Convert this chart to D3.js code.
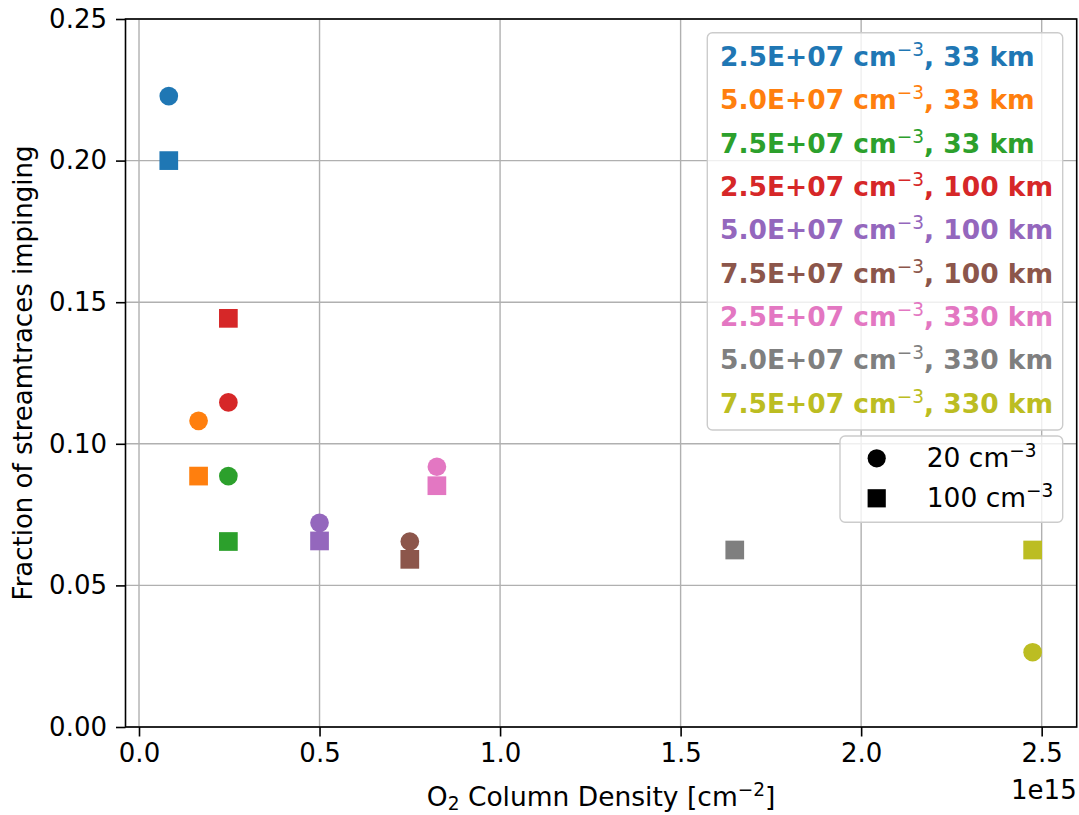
<!DOCTYPE html>
<html>
<head>
<meta charset="utf-8">
<script src="https://cdn.jsdelivr.net/npm/d3@7"></script>
<style>
  html, body { margin: 0; padding: 0; background: #fff; }
  svg { display: block; font-family: "DejaVu Sans", sans-serif; }
</style>
</head>
<body>
<svg id="chart" width="1079" height="815"></svg>
<script>
// ---- data ----
const densities = ["2.5E+07", "5.0E+07", "7.5E+07", "2.5E+07", "5.0E+07", "7.5E+07", "2.5E+07", "5.0E+07", "7.5E+07"];
const altitudes = ["33", "33", "33", "100", "100", "100", "330", "330", "330"];
const colors = ["#1f77b4", "#ff7f0e", "#2ca02c", "#d62728", "#9467bd", "#8c564b", "#e377c2", "#7f7f7f", "#bcbd22"];
// O2 column density in units of 1e15 cm^-2
const columnDensity = [0.0825, 0.165, 0.2475, 0.2475, 0.5, 0.75, 0.825, 1.65, 2.475];
// fraction of streamtraces impinging, for 20 cm^-3 (circles) and 100 cm^-3 (squares)
const frac20 = [0.2228, 0.1081, 0.0886, 0.1146, 0.0721, 0.0655, 0.0919, null, 0.0264];
const frac100 = [0.2000, 0.0886, 0.0655, 0.1443, 0.0657, 0.0592, 0.0852, 0.0625, 0.0625];
const xTicks = [0.0, 0.5, 1.0, 1.5, 2.0, 2.5];
const yTicks = [0.00, 0.05, 0.10, 0.15, 0.20, 0.25];
const markerLabels = ["20", "100"];

// ---- layout ----
const svg = d3.select("#chart");
const L = 125.5, R = 1076.7, T = 19, B = 727;
const FS = 26;
const LFS = 26.5;
const x = d3.scaleLinear().domain([-0.0374, 2.597]).range([L, R]);
const y = d3.scaleLinear().domain([0, 0.25]).range([B, T]);

// grid
const grid = svg.append("g");
grid.selectAll("line.vx").data(xTicks).enter().append("line")
  .attr("x1", d => x(d)).attr("x2", d => x(d)).attr("y1", T).attr("y2", B)
  .attr("stroke", "#b0b0b0").attr("stroke-width", 1.4);
grid.selectAll("line.hy").data(yTicks).enter().append("line")
  .attr("x1", L).attr("x2", R).attr("y1", d => y(d)).attr("y2", d => y(d))
  .attr("stroke", "#b0b0b0").attr("stroke-width", 1.4);

// axes
const xAxis = d3.axisBottom(x).tickValues(xTicks).tickFormat(d3.format(".1f")).tickSize(9.5).tickPadding(7);
const yAxis = d3.axisLeft(y).tickValues(yTicks).tickFormat(d3.format(".2f")).tickSize(9.5).tickPadding(9);
const gx = svg.append("g").attr("transform", `translate(0,${B})`).call(xAxis);
const gy = svg.append("g").attr("transform", `translate(${L},0)`).call(yAxis);
[gx, gy].forEach(g => {
  g.select(".domain").remove();
  g.selectAll(".tick line").attr("stroke", "#000").attr("stroke-width", 1.6);
  g.selectAll(".tick text").attr("fill", "#000").attr("font-size", FS).attr("font-family", "DejaVu Sans");
});

// points
const pts = svg.append("g");
const half = 9.35;
pts.selectAll("circle").data(columnDensity.map((c, i) => ({c, v: frac20[i], col: colors[i]})).filter(d => d.v != null))
  .enter().append("circle")
  .attr("cx", d => x(d.c)).attr("cy", d => y(d.v)).attr("r", half)
  .attr("fill", d => d.col);
pts.selectAll("rect").data(columnDensity.map((c, i) => ({c, v: frac100[i], col: colors[i]})).filter(d => d.v != null))
  .enter().append("rect")
  .attr("x", d => x(d.c) - half).attr("y", d => y(d.v) - half)
  .attr("width", 2 * half).attr("height", 2 * half)
  .attr("fill", d => d.col);

// spines
svg.append("rect").attr("x", L).attr("y", T).attr("width", R - L).attr("height", B - T)
  .attr("fill", "none").attr("stroke", "#000").attr("stroke-width", 1.6);

// axis labels
const xl = svg.append("text").attr("x", (L + R) / 2).attr("y", 806).attr("text-anchor", "middle")
  .attr("font-size", 26.5).attr("fill", "#000");
xl.append("tspan").text("O");
xl.append("tspan").attr("font-size", 26.5 * 0.7).attr("dy", 4).text("2");
xl.append("tspan").attr("dy", -4).text(" Column Density [cm");
xl.append("tspan").attr("font-size", 26.5 * 0.7).attr("dy", -10).text("−2");
xl.append("tspan").attr("dy", 10).text("]");

svg.append("text").attr("transform", `translate(32,${(T + B) / 2}) rotate(-90)`)
  .attr("text-anchor", "middle").attr("font-size", FS).attr("fill", "#000")
  .text("Fraction of streamtraces impinging");

svg.append("text").attr("x", R).attr("y", 799).attr("text-anchor", "end")
  .attr("font-size", FS).attr("fill", "#000").text("1e15");

// legend 1
const lg = svg.append("g");
lg.append("rect").attr("x", 707.3).attr("y", 32.7).attr("width", 1062.7 - 707.3).attr("height", 430 - 32.7)
  .attr("rx", 5).attr("fill", "#fff").attr("fill-opacity", 0.8)
  .attr("stroke", "#cccccc").attr("stroke-width", 1.4);
densities.forEach((d, i) => {
  const t = lg.append("text").attr("x", 720).attr("y", 66 + i * 43.35)
    .attr("font-size", LFS).attr("font-weight", "bold").attr("fill", colors[i]);
  t.append("tspan").text(`${d} cm`);
  t.append("tspan").attr("font-size", LFS * 0.7).attr("font-weight", "normal").attr("dy", -10).text("−3");
  t.append("tspan").attr("dy", 10).text(`, ${altitudes[i]} km`);
});

// legend 2
const lg2 = svg.append("g");
lg2.append("rect").attr("x", 840).attr("y", 436).attr("width", 1062.7 - 840).attr("height", 522.3 - 436)
  .attr("rx", 5).attr("fill", "#fff").attr("fill-opacity", 0.8)
  .attr("stroke", "#cccccc").attr("stroke-width", 1.4);
lg2.append("circle").attr("cx", 876.7).attr("cy", 458.3).attr("r", 9.1).attr("fill", "#000");
lg2.append("rect").attr("x", 876.7 - 9.1).attr("y", 498.3 - 9.1).attr("width", 18.2).attr("height", 18.2).attr("fill", "#000");
markerLabels.forEach((m, i) => {
  const t = lg2.append("text").attr("x", 926.7).attr("y", 467 + i * 40)
    .attr("font-size", LFS).attr("fill", "#000");
  t.append("tspan").text(`${m} cm`);
  t.append("tspan").attr("font-size", LFS * 0.7).attr("dy", -10).text("−3");
});
</script>
</body>
</html>
